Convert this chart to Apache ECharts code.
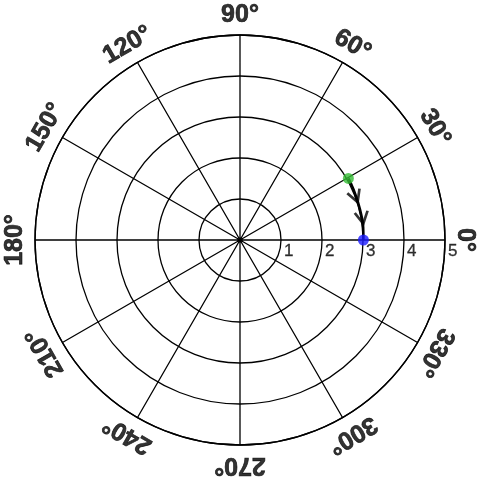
<!DOCTYPE html>
<html>
<head>
<meta charset="utf-8">
<script src="https://cdn.jsdelivr.net/npm/echarts@6/dist/echarts.min.js"></script>
<style>html,body{margin:0;padding:0;background:#fff;}#c{width:480px;height:480px;}</style>
</head>
<body>
<div id="c"></div>
<script>
const radialTicks = [0, 1, 2, 3, 4, 5];
const radialLabels = [1, 2, 3, 4, 5];
const angleTicks = [0, 30, 60, 90, 120, 150, 180, 210, 240, 270, 300, 330];
const angleLabelRadius = 5.49;
const pathAngle = [29.6, 24, 18, 12, 6, 0];
const pathRadius = [3.04, 3.03, 3.02, 3.02, 3.02, 3.01];
const arrowAngle = [20.6, 10.3];
const arrowRadius = [3.01, 3.03];
const startPoint = [3.04, 29.6];
const endPoint = [3.01, 0];

const chart = echarts.init(document.getElementById('c'));
const FONT = 'Liberation Sans';
const option = {
  animation: false,
  backgroundColor: '#fff',
  polar: { center: [240, 240], radius: 205 },
  angleAxis: {
    type: 'value', min: 0, max: 360, interval: 30,
    startAngle: 0, clockwise: false,
    axisLine: { lineStyle: { color: '#000', width: 1.3 } },
    axisTick: { show: false },
    axisLabel: { show: false },
    splitLine: { show: true, lineStyle: { color: '#000', width: 1.3 } }
  },
  radiusAxis: {
    type: 'value', min: radialTicks[0], max: radialTicks[radialTicks.length - 1], interval: 1,
    axisLine: { show: false },
    axisTick: { show: false },
    splitLine: { show: true, lineStyle: { color: '#000', width: 1.3 } },
    axisLabel: { show: false }
  },
  series: [
    {
      type: 'scatter', coordinateSystem: 'polar', clip: false, silent: true,
      symbolSize: 0,
      data: angleTicks.map(a => [angleLabelRadius, a]),
      label: {
        show: true, position: 'inside',
        formatter: p => p.value[1] + '°',
        fontSize: 25, fontWeight: 'bold', fontFamily: FONT, color: '#000',
        textBorderColor: '#000', textBorderWidth: 0.7
      },
      labelLayout: p => ({ rotate: angleTicks[p.dataIndex] - 90 })
    },
    {
      type: 'scatter', coordinateSystem: 'polar', clip: false, silent: true,
      symbolSize: 0,
      data: radialLabels.map(r => [r, 0]),
      label: {
        show: true, position: [3, 3], align: 'left', verticalAlign: 'top',
        formatter: p => String(p.value[0]),
        fontSize: 17, fontFamily: FONT, color: '#000',
        textBorderColor: '#000', textBorderWidth: 0.3
      }
    },
    {
      type: 'line', coordinateSystem: 'polar', smooth: true, showSymbol: false,
      data: pathAngle.map((a, i) => [pathRadius[i], a]),
      lineStyle: { color: '#000', width: 2.6 }, z: 3
    },
    {
      type: 'scatter', coordinateSystem: 'polar', clip: false,
      symbol: 'path://M0,0 L7,12 L14,0',
      symbolSize: [13, 12],
      data: arrowAngle.map((a, i) => ({ value: [arrowRadius[i], a], symbolRotate: a })),
      itemStyle: { color: 'rgba(0,0,0,0)', borderColor: '#000', borderWidth: 2.6 },
      z: 4
    },
    {
      type: 'scatter', coordinateSystem: 'polar', clip: false,
      symbolSize: 11, data: [startPoint],
      itemStyle: { color: '#33bb33' }, z: 5
    },
    {
      type: 'scatter', coordinateSystem: 'polar', clip: false,
      symbolSize: 11, data: [endPoint],
      itemStyle: { color: '#1a1aff' }, z: 5
    }
  ]
};
chart.setOption(option);
</script>
</body>
</html>
